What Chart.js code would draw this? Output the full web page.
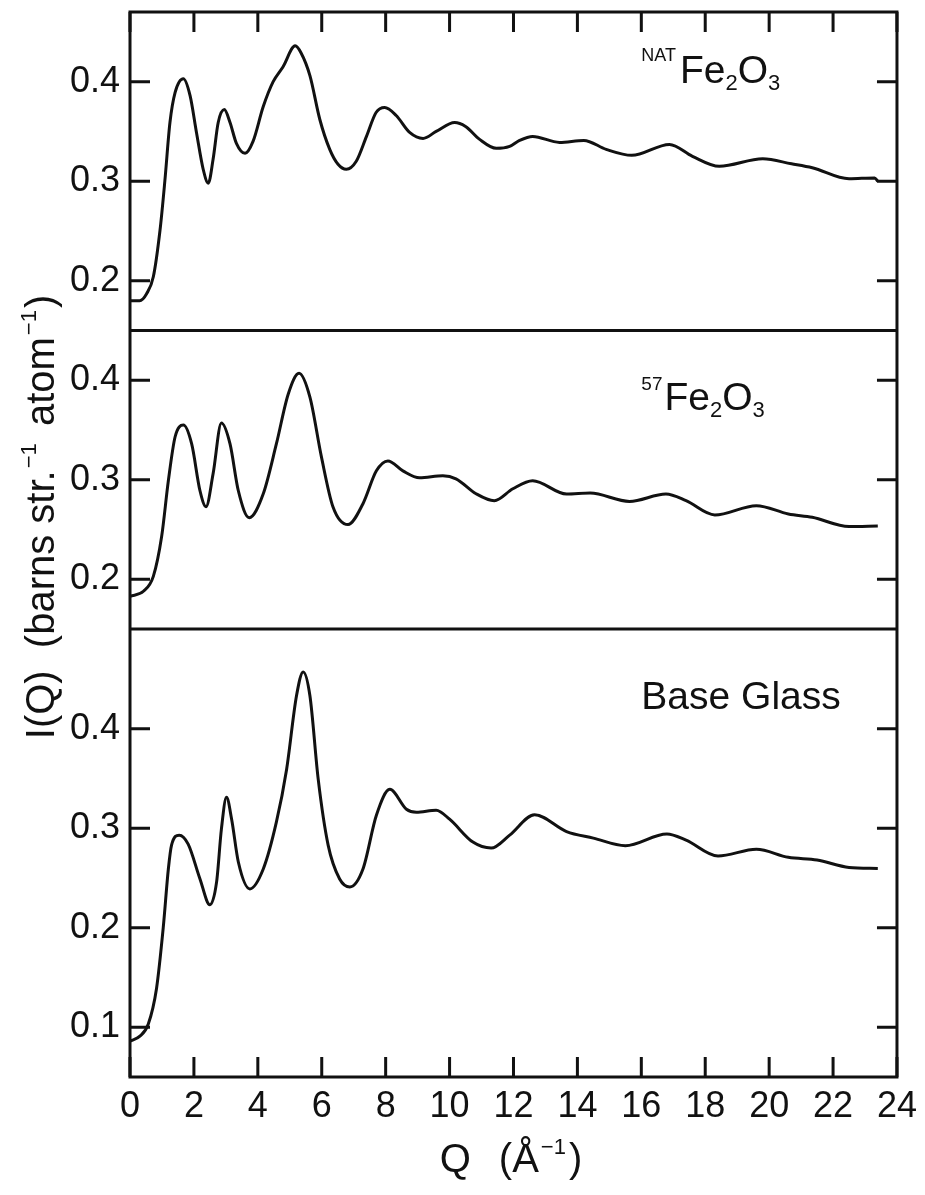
<!DOCTYPE html>
<html>
<head>
<meta charset="utf-8">
<title>I(Q)</title>
<script src="https://cdn.jsdelivr.net/npm/chart.js@4.4.1/dist/chart.umd.min.js"></script>
<style>
    html, body { margin: 0; padding: 0; background: #fff; }
    .grafica { position: relative; width: 925px; height: 1195px; }
</style>
</head>
<body>
<div class="grafica"><canvas id="graficaIQ"></canvas></div>
<script>
/*=============================================
DATOS
=============================================*/
var qNat = [0, 0.3, 0.52, 0.73, 0.94, 1.09, 1.25, 1.41, 1.67, 1.88, 2.08, 2.29, 2.45, 2.6, 2.76, 2.95, 3.13, 3.33, 3.6, 3.85, 4.17, 4.48, 4.79, 5.17, 5.35, 5.63, 5.94, 6.25, 6.51, 6.77, 7.08, 7.4, 7.7, 7.97, 8.33, 8.75, 9.17, 9.58, 10.16, 10.5, 10.94, 11.46, 11.88, 12.19, 12.6, 13.44, 14.2, 14.9, 15.7, 16.88, 17.6, 18.44, 19.8, 20.7, 21.35, 22.5, 23.3, 23.4];
var iNat = [0.18, 0.18, 0.187, 0.204, 0.251, 0.30, 0.359, 0.389, 0.403, 0.386, 0.349, 0.312, 0.298, 0.322, 0.359, 0.372, 0.359, 0.338, 0.328, 0.34, 0.375, 0.40, 0.415, 0.436, 0.429, 0.406, 0.362, 0.332, 0.317, 0.312, 0.32, 0.345, 0.369, 0.374, 0.366, 0.349, 0.343, 0.35, 0.359, 0.355, 0.342, 0.333, 0.335, 0.341, 0.345, 0.339, 0.341, 0.332, 0.326, 0.337, 0.325, 0.315, 0.3225, 0.3175, 0.3135, 0.3024, 0.3033, 0.300];

var q57 = [0, 0.42, 0.73, 0.99, 1.2, 1.41, 1.67, 1.93, 2.19, 2.38, 2.6, 2.86, 3.13, 3.39, 3.73, 4.17, 4.58, 4.95, 5.29, 5.63, 5.99, 6.35, 6.82, 7.29, 7.71, 8.07, 8.54, 9.06, 9.79, 10.2, 10.83, 11.4, 11.98, 12.6, 13.66, 14.4, 15.63, 16.77, 17.4, 18.3, 19.6, 20.6, 21.35, 22.5, 23.4];
var i57 = [0.183, 0.188, 0.203, 0.243, 0.299, 0.343, 0.355, 0.336, 0.289, 0.273, 0.306, 0.357, 0.336, 0.289, 0.262, 0.286, 0.336, 0.386, 0.407, 0.383, 0.323, 0.273, 0.255, 0.276, 0.309, 0.319, 0.309, 0.302, 0.304, 0.301, 0.286, 0.279, 0.291, 0.299, 0.2857, 0.2867, 0.2783, 0.2857, 0.279, 0.2647, 0.274, 0.2657, 0.2623, 0.253, 0.2537];

var qBase = [0, 0.31, 0.57, 0.83, 1.04, 1.2, 1.3, 1.54, 1.82, 2.19, 2.5, 2.71, 2.86, 3.02, 3.18, 3.39, 3.75, 4.17, 4.58, 4.9, 5.21, 5.42, 5.63, 5.89, 6.2, 6.56, 6.88, 7.29, 7.71, 8.13, 8.65, 8.96, 9.58, 10.0, 10.73, 11.3, 11.88, 12.66, 13.66, 14.5, 15.5, 16.8, 17.4, 18.4, 19.6, 20.6, 21.5, 22.5, 23.4];
var iBase = [0.086, 0.091, 0.103, 0.139, 0.2, 0.259, 0.283, 0.293, 0.284, 0.249, 0.223, 0.246, 0.299, 0.331, 0.309, 0.266, 0.239, 0.259, 0.306, 0.359, 0.433, 0.457, 0.433, 0.349, 0.283, 0.249, 0.241, 0.259, 0.313, 0.339, 0.319, 0.316, 0.318, 0.309, 0.286, 0.28, 0.293, 0.3134, 0.2966, 0.29, 0.2824, 0.2942, 0.288, 0.272, 0.2788, 0.2707, 0.268, 0.2606, 0.2596];

var ticksQ = [0, 2, 4, 6, 8, 10, 12, 14, 16, 18, 20, 22, 24];
var ticksNat = [0.2, 0.3, 0.4];
var ticks57 = [0.2, 0.3, 0.4];
var ticksBase = [0.1, 0.2, 0.3, 0.4];

var FUENTE = '"Liberation Sans", Arial, sans-serif';
var NEGRO = '#111';

function puntos(q, valores) {
    return q.map(function (x, i) {
        return { x: x, y: valores[i] };
    });
}

function serie(q, valores, eje) {
    return {
        data: puntos(q, valores),
        yAxisID: eje,
        borderColor: NEGRO,
        borderWidth: 3,
        pointRadius: 0,
        fill: false,
        cubicInterpolationMode: 'monotone'
    };
}

// cada panel es un eje Y apilado, con su alto proporcional al rango
function ejeY(min, max, marcas) {
    return {
        type: 'linear',
        position: 'left',
        stack: 'paneles',
        stackWeight: max - min,
        min: min,
        max: max,
        afterBuildTicks: function (scale) {
            scale.ticks = marcas.map(function (v) { return { value: v }; });
        },
        afterFit: function (scale) {
            scale.width = 130;
            // sin margen extra arriba/abajo por las etiquetas
            scale.paddingTop = 0;
            scale.paddingBottom = 0;
        },
        grid: { display: false, drawTicks: false },
        border: { display: false },
        ticks: {
            font: { family: FUENTE, size: 36 },
            color: NEGRO,
            padding: 10,
            callback: function (v) { return v.toFixed(1); }
        }
    };
}

// texto con sub/superindices: [texto, tamaño, desplazamiento, hueco]
function anchoTexto(ctx, partes) {
    var w = 0;
    partes.forEach(function (p) {
        ctx.font = p[1] + 'px ' + FUENTE;
        w += ctx.measureText(p[0]).width + (p[3] || 0);
    });
    return w;
}

function escribir(ctx, partes, x, y) {
    var cx = x;
    partes.forEach(function (p) {
        ctx.font = p[1] + 'px ' + FUENTE;
        ctx.fillText(p[0], cx, y + p[2]);
        cx += ctx.measureText(p[0]).width + (p[3] || 0);
    });
}

/*=============================================
MARCO, MARCAS Y ROTULOS
=============================================*/
var marco = {
    id: 'marco',
    afterDraw: function (chart) {
        var ctx = chart.ctx;
        var area = chart.chartArea;
        var ejeQ = chart.scales.x;
        var paneles = [chart.scales.yNat, chart.scales.y57, chart.scales.yBase];
        var largo = 20;

        ctx.save();
        ctx.strokeStyle = NEGRO;
        ctx.lineWidth = 3;
        ctx.beginPath();
        ejeQ.ticks.forEach(function (t) {
            var px = ejeQ.getPixelForValue(t.value);
            ctx.moveTo(px, area.bottom); ctx.lineTo(px, area.bottom - largo);
            ctx.moveTo(px, area.top); ctx.lineTo(px, area.top + largo);
        });
        paneles.forEach(function (s, n) {
            s.ticks.forEach(function (t) {
                var py = s.getPixelForValue(t.value);
                ctx.moveTo(area.left, py); ctx.lineTo(area.left + largo, py);
                ctx.moveTo(area.right, py); ctx.lineTo(area.right - largo, py);
            });
            if (n > 0) {
                ctx.moveTo(area.left, s.top); ctx.lineTo(area.right, s.top);
            }
        });
        ctx.stroke();
        ctx.strokeRect(area.left, area.top, area.right - area.left, area.bottom - area.top);

        ctx.fillStyle = NEGRO;
        ctx.textBaseline = 'alphabetic';
        ctx.textAlign = 'left';

        var xr = ejeQ.getPixelForValue(16);
        escribir(ctx, [['NAT', 18, -22, 4], ['Fe', 39, 0], ['2', 22, 7], ['O', 39, 0], ['3', 22, 7]],
            xr, chart.scales.yNat.getPixelForValue(0.399));
        escribir(ctx, [['57', 19, -20, 2], ['Fe', 39, 0], ['2', 22, 7], ['O', 39, 0], ['3', 22, 7]],
            xr, chart.scales.y57.getPixelForValue(0.370));
        escribir(ctx, [['Base Glass', 39, 0]],
            xr, chart.scales.yBase.getPixelForValue(0.42));

        // titulo del eje Q
        var tituloQ = [['Q', 40, 0, 28], ['(Å', 40, 0, 2], ['−1', 22, -18, 3], [')', 40, 0]];
        escribir(ctx, tituloQ, 511 - anchoTexto(ctx, tituloQ) / 2, 1172);

        // titulo del eje I(Q), girado
        var tituloI = [['I(Q)  (barns str.', 40, 0, 2], ['−1', 22, -18, 6], [' atom', 40, 0, 2], ['−1', 22, -18, 2], [')', 40, 0]];
        ctx.translate(54, 517);
        ctx.rotate(-Math.PI / 2);
        escribir(ctx, tituloI, -anchoTexto(ctx, tituloI) / 2, 0);
        ctx.restore();
    }
};

var ctx = document.getElementById('graficaIQ').getContext('2d');
new Chart(ctx, {
    type: 'line',
    data: {
        datasets: [
            serie(qNat, iNat, 'yNat'),
            serie(q57, i57, 'y57'),
            serie(qBase, iBase, 'yBase')
        ]
    },
    options: {
        responsive: true,
        maintainAspectRatio: false,
        animation: false,
        layout: { padding: { left: 0, right: 27, top: 12, bottom: 0 } },
        plugins: { legend: { display: false }, tooltip: { enabled: false } },
        scales: {
            x: {
                type: 'linear',
                position: 'bottom',
                min: 0,
                max: 24,
                afterBuildTicks: function (scale) {
                    scale.ticks = ticksQ.map(function (v) { return { value: v }; });
                },
                afterFit: function (scale) { scale.height = 118; },
                grid: { display: false, drawTicks: false },
                border: { display: false },
                ticks: {
                    font: { family: FUENTE, size: 36 },
                    color: NEGRO,
                    padding: 8,
                    maxRotation: 0,
                    autoSkip: false
                }
            },
            // el ultimo eje definido queda arriba
            yBase: ejeY(0.05, 0.50, ticksBase),
            y57: ejeY(0.15, 0.45, ticks57),
            yNat: ejeY(0.15, 0.47, ticksNat)
        }
    },
    plugins: [marco]
});
</script>
</body>
</html>
